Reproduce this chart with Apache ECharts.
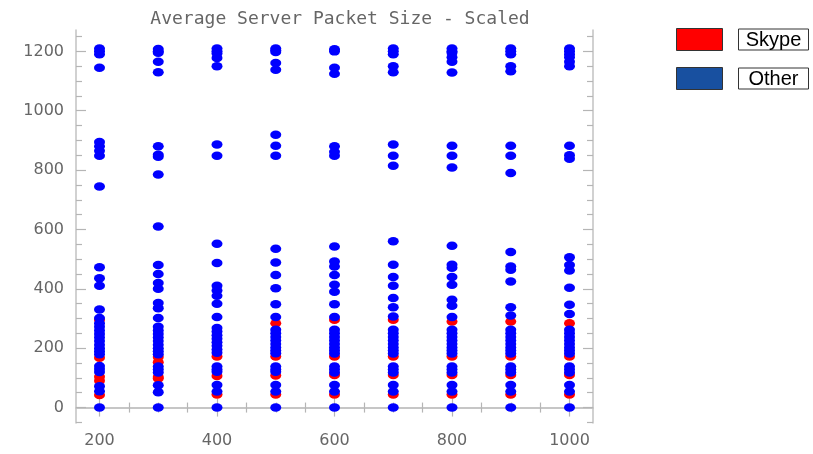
<!DOCTYPE html>
<html><head><meta charset="utf-8">
<script src="https://cdn.jsdelivr.net/npm/echarts@6/dist/echarts.min.js"></script>
<style>html,body{margin:0;padding:0;background:#fff}#c{width:813px;height:454px}</style>
</head><body><div id="c"></div>
<script>
const columns = [200, 300, 400, 500, 600, 700, 800, 900, 1000];

const other200 = [1210, 1200, 1190, 1145, 895, 880, 865, 848, 745, 473, 436, 410, 330, 302, 284, 272, 260, 248, 236, 224, 212, 200, 190, 180, 140, 130, 120, 72, 55, 0];
const other300 = [1208, 1200, 1195, 1165, 1130, 880, 852, 845, 785, 610, 480, 450, 420, 400, 352, 335, 302, 272, 260, 248, 236, 224, 212, 200, 190, 180, 138, 128, 118, 75, 52, 0];
const other400 = [1210, 1200, 1193, 1178, 1150, 886, 848, 552, 487, 410, 394, 377, 350, 305, 268, 256, 244, 232, 220, 208, 196, 185, 138, 128, 121, 76, 54, 0];
const other500 = [1210, 1204, 1198, 1161, 1138, 919, 882, 848, 535, 489, 447, 402, 348, 305, 262, 250, 238, 226, 214, 202, 192, 183, 138, 128, 121, 76, 54, 0];
const other600 = [1207, 1200, 1145, 1125, 880, 862, 848, 543, 492, 475, 447, 414, 390, 348, 305, 262, 250, 238, 226, 214, 202, 192, 182, 138, 128, 118, 76, 54, 0];
const other700 = [1210, 1200, 1190, 1150, 1130, 886, 848, 815, 560, 481, 440, 410, 369, 338, 307, 262, 250, 238, 226, 214, 202, 192, 182, 138, 128, 118, 76, 54, 0];
const other800 = [1210, 1200, 1195, 1180, 1165, 1129, 882, 848, 809, 545, 481, 471, 440, 414, 363, 343, 305, 262, 250, 238, 226, 214, 202, 192, 182, 138, 128, 118, 76, 54, 0];
const other900 = [1210, 1200, 1190, 1150, 1133, 882, 848, 790, 524, 475, 464, 425, 338, 310, 262, 250, 238, 226, 214, 202, 192, 182, 138, 128, 118, 76, 54, 0];
const other1000 = [1210, 1200, 1190, 1180, 1165, 1150, 882, 850, 838, 506, 480, 462, 404, 346, 315, 262, 250, 238, 226, 214, 202, 192, 182, 138, 128, 118, 76, 54, 0];

const skype200 = [296, 168, 104, 90, 42];
const skype300 = [170, 153, 103, 98];
const skype400 = [172, 106, 44];
const skype500 = [284, 172, 108, 44];
const skype600 = [296, 172, 110, 44];
const skype700 = [296, 172, 110, 44];
const skype800 = [290, 172, 110, 44];
const skype900 = [290, 172, 110, 44];
const skype1000 = [284, 172, 110, 44];

const otherByColumn = [other200, other300, other400, other500, other600, other700, other800, other900, other1000];
const skypeByColumn = [skype200, skype300, skype400, skype500, skype600, skype700, skype800, skype900, skype1000];

const xMajorTicks = [200, 400, 600, 800, 1000];
const xMinorTicks = [250, 300, 350, 450, 500, 550, 650, 700, 750, 850, 900, 950];
const yMajorTicks = [0, 200, 400, 600, 800, 1000, 1200];
const yMinorTicks = [-50, 50, 100, 150, 250, 300, 350, 450, 500, 550, 650, 700, 750, 850, 900, 950, 1050, 1100, 1150, 1250];

const titleText = 'Average Server Packet Size - Scaled';
const seriesNames = ['Skype', 'Other'];

function pairs(byCol) {
  const out = [];
  byCol.forEach((vals, i) => vals.forEach(v => out.push([columns[i], v])));
  return out;
}

const frameColor = '#c2c2c2';
const tickColor = '#b5b5b5';
const labelStyle = { color: '#666', fontSize: 16, fontFamily: 'DejaVu Sans' };

function axis(kind, pos, ticks, len, labels, line) {
  const isX = kind === 'x';
  return {
    type: 'value',
    min: isX ? 160 : -52,
    max: isX ? 1040 : 1272,
    position: pos,
    axisLine: { show: line, lineStyle: { color: frameColor, width: 1.5 } },
    axisTick: { show: true, inside: true, length: len, customValues: ticks, lineStyle: { color: tickColor, width: 1.2 } },
    axisLabel: labels ? Object.assign({ show: true, customValues: labels, margin: isX ? 10 : 12, formatter: v => String(v) }, labelStyle) : { show: false },
    splitLine: { show: false },
    silent: true
  };
}

const chart = echarts.init(document.getElementById('c'), null, { renderer: 'canvas' });
chart.setOption({
  animation: false,
  backgroundColor: '#fff',
  title: {
    text: titleText,
    left: 335, top: 5, textAlign: 'center',
    textStyle: { color: '#666', fontSize: 18, fontWeight: 'normal', fontFamily: 'DejaVu Sans Mono' }
  },
  grid: { left: 76, right: 220, top: 30, bottom: 31, containLabel: false },
  legend: {
    orient: 'vertical', left: 676, top: 28, padding: 0,
    itemWidth: 46, itemHeight: 22, itemGap: 16,
    icon: 'rect',
    selectedMode: false,
    data: [
      { name: seriesNames[0], itemStyle: { color: '#ff0000', borderColor: '#333', borderWidth: 1 } },
      { name: seriesNames[1], itemStyle: { color: '#1850a0', borderColor: '#333', borderWidth: 1 } }
    ],
    formatter: n => '{b|' + n + '}',
    textStyle: {
      padding: [0, 0, 0, 11],
      rich: {
        b: { fontSize: 20, fontFamily: 'Liberation Sans', color: '#000', borderColor: '#333', borderWidth: 1, width: 68, align: 'center', lineHeight: 23, padding: [1, 1, 0, 1] }
      }
    }
  },
  xAxis: [
    axis('x', 'bottom', xMajorTicks, 9, xMajorTicks, true),
    axis('x', 'bottom', xMinorTicks, 5, null, false),
    axis('x', 'top', xMajorTicks, 9, null, true),
    axis('x', 'top', xMinorTicks, 5, null, false)
  ],
  yAxis: [
    axis('y', 'left', yMajorTicks, 10, yMajorTicks, true),
    axis('y', 'left', yMinorTicks, 6, null, false),
    axis('y', 'right', yMajorTicks, 10, null, true),
    axis('y', 'right', yMinorTicks, 6, null, false)
  ],
  series: [
    {
      name: seriesNames[0], type: 'scatter', xAxisIndex: 0, yAxisIndex: 0,
      symbol: 'circle', symbolSize: [11, 8.5],
      itemStyle: { color: '#ff0000', opacity: 1 },
      data: pairs(skypeByColumn), z: 2
    },
    {
      name: seriesNames[1], type: 'scatter', xAxisIndex: 0, yAxisIndex: 0,
      symbol: 'circle', symbolSize: [11, 8.5],
      itemStyle: { color: '#0000ff', opacity: 1 },
      data: pairs(otherByColumn), z: 3
    }
  ]
});
</script>
</body></html>
